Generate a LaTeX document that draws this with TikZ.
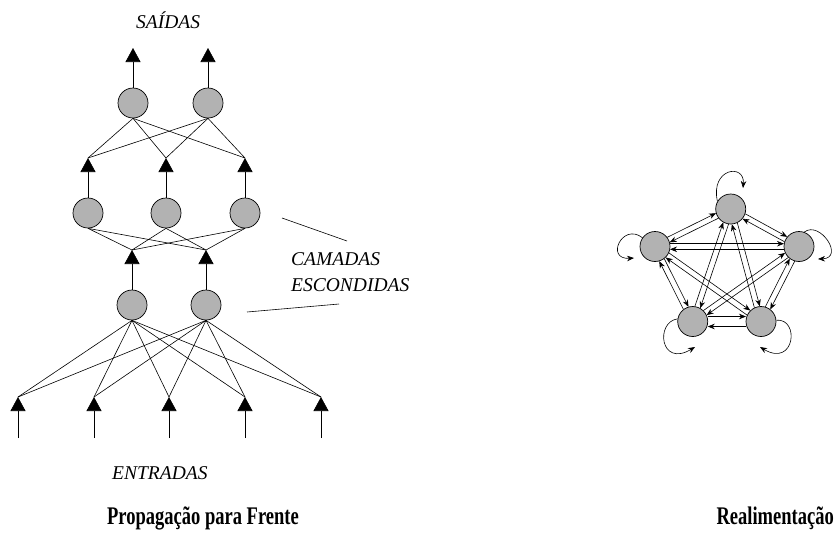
\documentclass[tikz,border=0pt]{standalone}
\usepackage{graphicx}
\usepackage{fontspec}
\setmainfont{Liberation Serif}
\usetikzlibrary{arrows.meta,calc}
\definecolor{nfill}{RGB}{178,178,178}
\newcommand\fbarrow[3][2.8pt]{\draw[fb] ($(#2)!15pt!(#3)!#1!90:(#3)$) -- ($(#3)!15pt!(#2)!#1!-90:(#2)$);}
\newcommand\fbpair[3][2.8pt]{\fbarrow[#1]{#2}{#3}\fbarrow[#1]{#3}{#2}}
\begin{document}
\begin{tikzpicture}[x=1pt,y=-1pt,
  neuron/.style={circle,draw,fill=nfill,minimum size=30pt,inner sep=0pt,line width=0.7pt},
  link/.style={line width=0.6pt},
  tri/.style={line width=0.6pt,-{Triangle[length=14pt,width=15pt]}},
  fb/.style={line width=0.6pt,-{Stealth[length=7pt,width=5.5pt]}},
  lab/.style={font=\itshape\fontsize{19.5}{22}\selectfont,inner sep=0pt},
  ttl/.style={font=\bfseries\fontsize{19.5}{24}\selectfont,inner sep=0pt}]
\useasboundingbox (0,0) rectangle (834,539);

% ---------- feed-forward network ----------
\node[neuron] (o1) at (133,103) {};
\node[neuron] (o2) at (208,103) {};
\node[neuron] (h2a) at (88,213) {};
\node[neuron] (h2b) at (166,213) {};
\node[neuron] (h2c) at (245,213) {};
\node[neuron] (h1a) at (132,305) {};
\node[neuron] (h1b) at (206,305) {};

\coordinate (ot1) at (133,48);
\coordinate (ot2) at (208,48);
\coordinate (t2a) at (88,158);
\coordinate (t2b) at (166,158);
\coordinate (t2c) at (245,158);
\coordinate (t1a) at (132,250);
\coordinate (t1b) at (206,250);
\foreach \i/\x in {1/18,2/94,3/169,4/245,5/321}{
  \coordinate (i\i) at (\x,397);
  \coordinate (b\i) at (\x,438);
}

\draw[tri] (o1) -- (ot1);
\draw[tri] (o2) -- (ot2);
\draw[tri] (h2a) -- (t2a);
\draw[tri] (h2b) -- (t2b);
\draw[tri] (h2c) -- (t2c);
\draw[tri] (h1a) -- (t1a);
\draw[tri] (h1b) -- (t1b);
\foreach \i in {1,...,5}{\draw[tri] (b\i) -- (i\i);}

\foreach \o in {o1,o2}{\foreach \t in {t2a,t2b,t2c}{\draw[link] (\o.south) -- (\t);}}
\foreach \h in {h2a,h2b,h2c}{\foreach \t in {t1a,t1b}{\draw[link] (\h.south) -- (\t);}}
\foreach \h in {h1a,h1b}{\foreach \i in {1,...,5}{\draw[link] (\h.south) -- (i\i);}}

\coordinate (pa1) at (282,218);
\coordinate (pa2) at (347,241);
\coordinate (pb1) at (247,312);
\coordinate (pb2) at (339,304);
\draw[link] (pa1) -- (pa2);
\draw[link] (pb1) -- (pb2);

\node[lab,anchor=base west] (sai) at (136,28) {SAÍDAS};
\node[lab,anchor=base west] (cam) at (291,265.5) {CAMADAS};
\node[lab,anchor=base west] (esc) at (291,291.5) {ESCONDIDAS};
\node[lab,anchor=base west] (ent) at (112,479) {ENTRADAS};
\node[ttl,anchor=base] (t1) at (203,524) {\scalebox{0.95}[1.3]{Propagação para Frente}};
\node[ttl,anchor=base east] (t2) at (834,524) {\scalebox{0.95}[1.3]{Realimentação}};

% ---------- recurrent network ----------
\node[neuron] (T) at (730.7,209) {};
\node[neuron] (L) at (655,246.5) {};
\node[neuron] (R) at (799,246.5) {};
\node[neuron] (BL) at (692.7,321.5) {};
\node[neuron] (BR) at (761,321.5) {};

\fbpair{T}{L}
\fbpair{T}{R}
\fbpair{T}{BL}
\fbpair{T}{BR}
\fbpair{L}{R}
\fbpair{L}{BL}
\fbpair{L}{BR}
\fbpair{R}{BL}
\fbpair{R}{BR}
\fbpair[5pt]{BL}{BR}

\coordinate (lt) at (743,188);
\coordinate (ll) at (634,258);
\coordinate (lr) at (818,259);
\coordinate (lbl) at (695,347);
\coordinate (lbr) at (760,347);
\draw[fb] (T.150) .. controls (710,168) and (745,163) .. (lt);
\draw[fb] (L.145) .. controls (622,222) and (605,260) .. (ll);
\draw[fb] (R.70) .. controls (820,220) and (845,258) .. (lr);
\draw[fb] (BL.170) .. controls (655,322) and (660,368) .. (lbl);
\draw[fb] (BR.5) .. controls (800,318) and (795,368) .. (lbr);
\end{tikzpicture}
\end{document}
